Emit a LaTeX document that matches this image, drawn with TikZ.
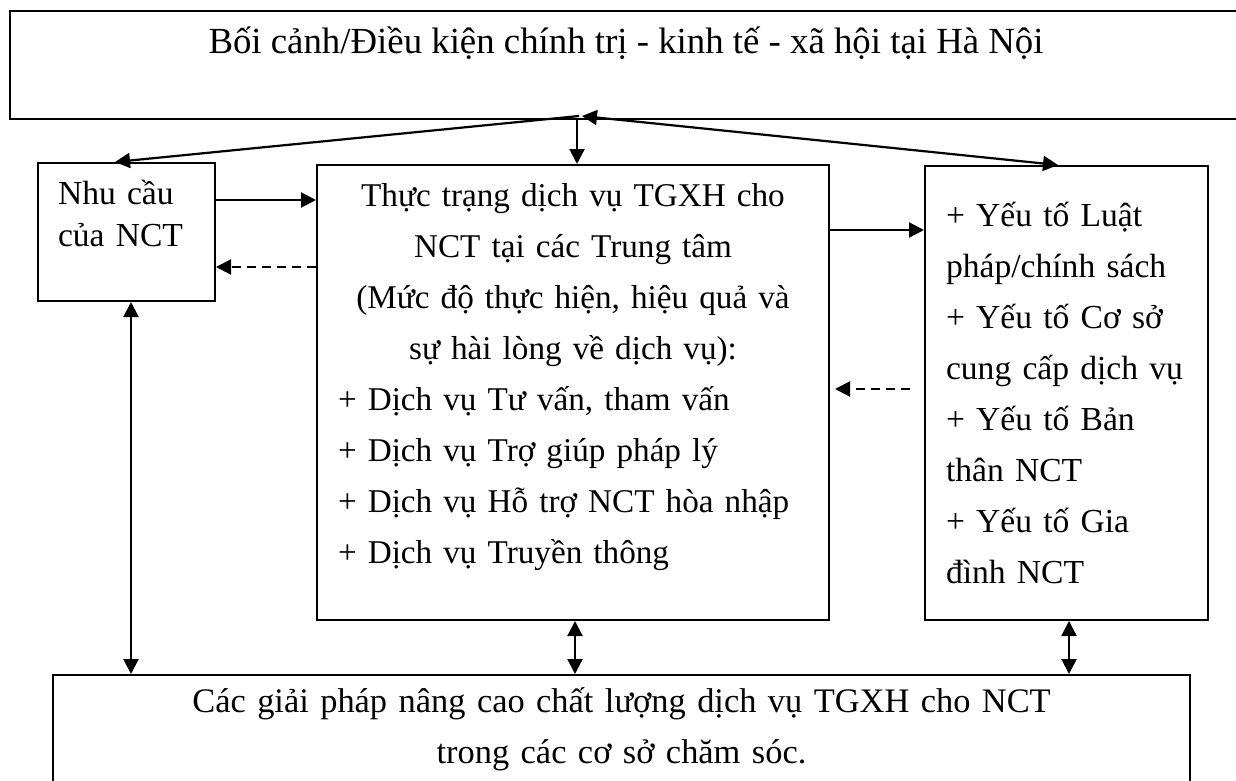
\documentclass[tikz,border=0pt]{standalone}
\usepackage{fontspec}
\setmainfont{Liberation Serif}
\usetikzlibrary{arrows.meta}

\begin{document}
\begin{tikzpicture}[x=0.5pt,y=-0.5pt,
  box/.style={draw, line width=1pt, rectangle, inner ysep=0pt, inner xsep=10.5pt,
    font=\fontsize{16.8pt}{25.5pt}\selectfont},
  arr/.style={line width=1.1pt, -{Triangle[length=7.5pt,width=7.5pt]}},
  darr/.style={line width=1.1pt, {Triangle[length=7.5pt,width=7.5pt]}-{Triangle[length=7.5pt,width=7.5pt]}},
  dasharrow/.style={arr, dash pattern=on 4.5pt off 3pt},
]
\useasboundingbox (0,0) rectangle (1236,781);
\clip (0,0) rectangle (1236,781);

% boxes
\node[box, anchor=north west, minimum width=616pt, text height=21.5pt, text depth=32.5pt,
  font=\fontsize{18.4pt}{25.5pt}\selectfont]
  (ctx) at (9,10) {Bối cảnh/Điều kiện chính trị - kinh tế - xã hội tại Hà Nội};

\node[box, anchor=north west, text width=68.5pt, inner xsep=10pt, text height=20.5pt,
  text depth=48.5pt, align=left, font=\fontsize{16.8pt}{21pt}\selectfont]
  (need) at (37,162) {Nhu cầu\\của NCT};

\node[box, anchor=north west, text width=235pt, text height=20.5pt, text depth=207pt,
  font=\fontsize{16.6pt}{25.5pt}\selectfont]
  (cur) at (316,164) {{\centering Thực trạng dịch vụ TGXH cho\\ NCT tại các Trung tâm\\ (Mức độ thực hiện, hiệu quả và\\ sự hài lòng về dịch vụ):\par}\raggedright + Dịch vụ Tư vấn, tham vấn\\ + Dịch vụ Trợ giúp pháp lý\\ + Dịch vụ Hỗ trợ NCT hòa nhập\\ + Dịch vụ Truyền thông};

\node[box, anchor=north west, text width=120.5pt, text height=30pt, text depth=197pt, align=left]
  (fac) at (924,165) {+ Yếu tố Luật\\ pháp/chính sách\\ + Yếu tố Cơ sở\\ cung cấp dịch vụ\\ + Yếu tố Bản\\ thân NCT\\ + Yếu tố Gia\\ đình NCT};

\node[box, anchor=north west, text width=547.5pt, text height=18.5pt, text depth=50pt, align=center,
  font=\fontsize{17.2pt}{25.5pt}\selectfont]
  (sol) at (52,674) {Các giải pháp nâng cao chất lượng dịch vụ TGXH cho NCT\\ trong các cơ sở chăm sóc.};

% helper coordinates
\coordinate (j) at (577,118);
\coordinate (jl) at (579,116);
\coordinate (jr) at (582,116);
\coordinate (r1) at (0,200);
\coordinate (r2) at (0,267);
\coordinate (r3) at (0,230);
\coordinate (r4) at (0,389);
\coordinate (c1) at (131,0);
\coordinate (c2) at (575,0);
\coordinate (c3) at (1069,0);

% connectors
\draw[arr] (j) -- (j |- cur.north);
\draw[arr] (jl) -- ([xshift=39pt]need.north west);
\draw[darr] (jr) -- ([xshift=67pt]fac.north west);
\draw[arr] (need.east |- r1) -- (cur.west |- r1);
\draw[dasharrow] (cur.west |- r2) -- (need.east |- r2);
\draw[arr] (cur.east |- r3) -- (fac.west |- r3);
\draw[dasharrow] ([xshift=-7pt]fac.west |- r4) -- ([xshift=2.5pt]cur.east |- r4);
\draw[darr] (need.south -| c1) -- (sol.north -| c1);
\draw[darr] (cur.south -| c2) -- (sol.north -| c2);
\draw[darr] (fac.south -| c3) -- (sol.north -| c3);
\end{tikzpicture}
\end{document}
